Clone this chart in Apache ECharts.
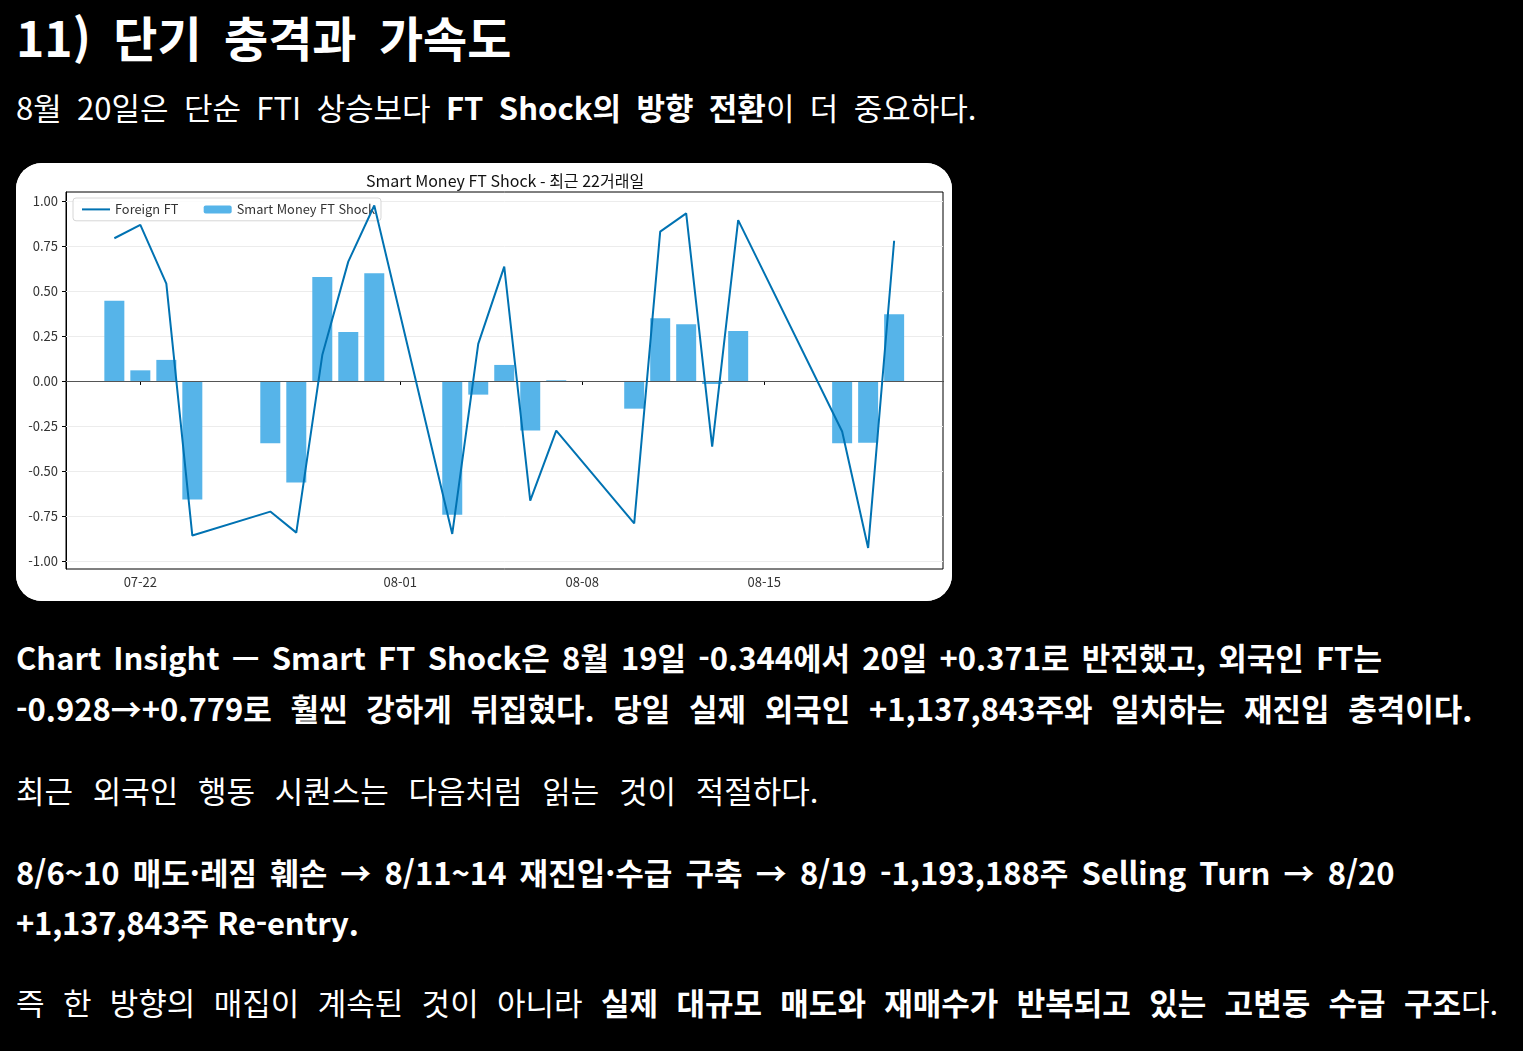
<!DOCTYPE html>
<html lang="ko">
<head>
<meta charset="UTF-8">
<title>단기 충격과 가속도</title>
<script src="https://cdn.jsdelivr.net/npm/echarts@6.0.0/dist/echarts.min.js"></script>
<style>
    html, body { margin: 0; padding: 0; background: #000; }
    body {
        width: 1523px; height: 1051px; position: relative; overflow: hidden;
        font-family: "Noto Sans CJK KR", "Noto Sans", sans-serif; color: #fff;
    }
    .ln { position: absolute; left: 16px; white-space: nowrap; line-height: 40px; }
    .h1 { font-size: 48px; font-weight: 700; top: 11px; line-height: 50px; word-spacing: 9px; }
    .t { font-size: 31px; }
    b { font-weight: 700; }
    .card {
        position: absolute; left: 16px; top: 163px; width: 936px; height: 438px;
        background: #fff; border-radius: 26px; overflow: hidden;
    }
    #main { width: 936px; height: 438px; }
</style>
</head>
<body>

<div class="ln h1">11) 단기 충격과 가속도</div>
<div class="ln t" style="top:87px; word-spacing:6.7px">8월 20일은 단순 FTI 상승보다 <b>FT Shock의 방향 전환</b>이 더 중요하다.</div>

<div class="card"><div id="main"></div></div>

<div class="ln t" style="top:637px; word-spacing:3.5px"><b>Chart Insight — Smart FT Shock은 8월 19일 -0.344에서 20일 +0.371로 반전했고, 외국인 FT는</b></div>
<div class="ln t" style="top:688px; word-spacing:10px"><b>-0.928→+0.779로 훨씬 강하게 뒤집혔다. 당일 실제 외국인 +1,137,843주와 일치하는 재진입 충격이다.</b></div>
<div class="ln t" style="top:770px; word-spacing:11px">최근 외국인 행동 시퀀스는 다음처럼 읽는 것이 적절하다.</div>
<div class="ln t" style="top:852px; word-spacing:4.5px"><b>8/6~10 매도·레짐 훼손 → 8/11~14 재진입·수급 구축 → 8/19 -1,193,188주 Selling Turn → 8/20</b></div>
<div class="ln t" style="top:902px; letter-spacing:-0.2px"><b>+1,137,843주 Re-entry.</b></div>
<div class="ln t" style="top:982px; word-spacing:9.7px">즉 한 방향의 매집이 계속된 것이 아니라 <b>실제 대규모 매도와 재매수가 반복되고 있는 고변동 수급 구조</b>다.</div>

<script type="text/javascript">
    // 22 trading days
    const tradeDates = [
        '2026-07-21', '2026-07-22', '2026-07-23', '2026-07-24',
        '2026-07-27', '2026-07-28', '2026-07-29', '2026-07-30', '2026-07-31',
        '2026-08-03', '2026-08-04', '2026-08-05', '2026-08-06', '2026-08-07',
        '2026-08-10', '2026-08-11', '2026-08-12', '2026-08-13', '2026-08-14',
        '2026-08-18', '2026-08-19', '2026-08-20'
    ]
    const smartShock = [
        0.446, 0.059, 0.117, -0.659,
        -0.346, -0.565, 0.578, 0.272, 0.598,
        -0.744, -0.076, 0.089, -0.276, 0.004,
        -0.154, 0.348, 0.315, -0.017, 0.278,
        -0.346, -0.344, 0.371
    ]
    const foreignFT = [
        0.793, 0.867, 0.541, -0.859,
        -0.726, -0.843, 0.144, 0.663, 0.975,
        -0.850, 0.206, 0.635, -0.665, -0.276,
        -0.791, 0.830, 0.931, -0.365, 0.894,
        -0.281, -0.928, 0.779
    ]
    const yTicks = [-1, -0.75, -0.5, -0.25, 0, 0.25, 0.5, 0.75, 1]
    const xTickDates = ['2026-07-22', '2026-08-01', '2026-08-08', '2026-08-15']

    const DAY = 86400000
    const parse = s => echarts.time.parse(s).getTime()
    const xTicks = xTickDates.map(parse)
    const xMin = parse('2026-07-22') - 2.86 * DAY
    const xMax = parse('2026-08-15') + 6.88 * DAY

    const barData = tradeDates.map((d, i) => [parse(d), smartShock[i]])
    const lineData = tradeDates.map((d, i) => [parse(d), foreignFT[i]])

    const font = '"Noto Sans CJK KR", "Noto Sans", sans-serif'

    var myChart = echarts.init(document.getElementById('main'))
    var option = {
        backgroundColor: '#fff',
        animation: false,
        textStyle: { fontFamily: font },
        title: {
            text: 'Smart Money FT Shock - 최근 22거래일',
            left: 345,
            top: 5,
            textStyle: { fontFamily: font, fontSize: 16, fontWeight: 'normal', color: '#111' }
        },
        legend: {
            data: [
                { name: 'Foreign FT', itemStyle: { opacity: 0 } },
                { name: 'Smart Money FT Shock' }
            ],
            left: 57,
            top: 35,
            padding: [5, 8],
            itemGap: 26,
            itemWidth: 28,
            itemHeight: 8,
            backgroundColor: 'rgba(255,255,255,0.85)',
            borderColor: '#d6d6d6',
            borderWidth: 1,
            borderRadius: 3,
            textStyle: { fontFamily: font, fontSize: 12.8, color: '#333' }
        },
        grid: {
            left: 50, right: 9, top: 29, bottom: 32,
            show: true, borderColor: '#000', borderWidth: 1, backgroundColor: 'transparent'
        },
        xAxis: {
            type: 'value',
            min: xMin,
            max: xMax,
            axisLine: { lineStyle: { color: '#000', width: 1 } },
            axisTick: { customValues: xTicks, length: 4, lineStyle: { color: '#000' } },
            axisLabel: {
                customValues: xTicks,
                formatter: v => echarts.time.format(v, '{MM}-{dd}', false),
                fontFamily: font, fontSize: 13, color: '#333', margin: 7
            },
            splitLine: { show: false }
        },
        yAxis: {
            type: 'value',
            min: -1.045,
            max: 1.05,
            axisLine: { show: true, lineStyle: { color: '#000', width: 1 } },
            axisTick: { show: true, customValues: yTicks, length: 4, lineStyle: { color: '#000' } },
            axisLabel: {
                customValues: yTicks,
                formatter: v => v.toFixed(2),
                fontFamily: font, fontSize: 13, color: '#333', margin: 8
            },
            splitLine: { show: false }
        },
        series: [
            {
                name: 'Smart Money FT Shock',
                type: 'bar',
                data: barData,
                barWidth: 20,
                itemStyle: { color: '#56B4E9' },
                z: 2,
                markLine: {
                    silent: true,
                    symbol: 'none',
                    z: 1,
                    label: { show: false },
                    lineStyle: { color: '#ececec', width: 1, type: 'solid' },
                    data: yTicks.map(v => ({ yAxis: v }))
                }
            },
            {
                name: 'Foreign FT',
                type: 'line',
                data: lineData,
                symbol: 'none',
                lineStyle: { color: '#0072B2', width: 2 },
                itemStyle: { color: '#0072B2' },
                z: 4,
                markLine: {
                    silent: true,
                    symbol: 'none',
                    z: 3,
                    label: { show: false },
                    lineStyle: { color: '#555', width: 1.2, type: 'solid' },
                    data: [{ yAxis: 0 }]
                }
            }
        ]
    }
    option && myChart.setOption(option)
</script>
</body>
</html>
